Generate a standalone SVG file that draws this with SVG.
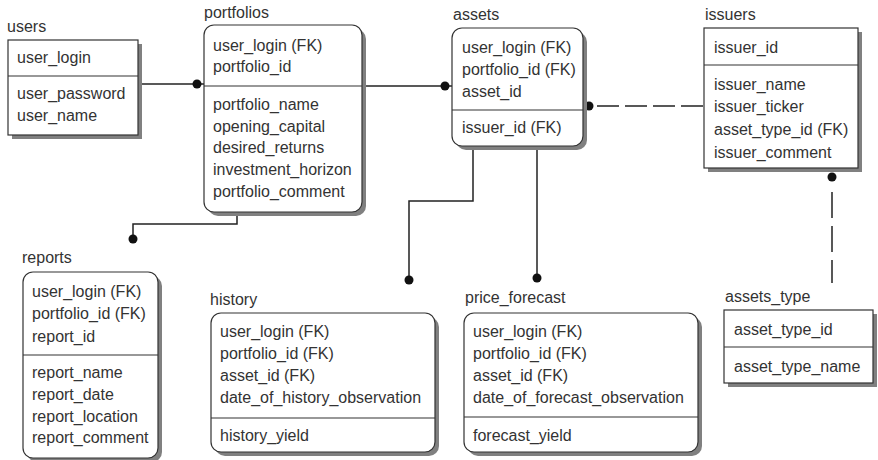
<svg xmlns="http://www.w3.org/2000/svg" width="878" height="460" viewBox="0 0 878 460">
<defs>
<style>
text{font-family:"Liberation Sans",Arial,sans-serif;font-size:16px;fill:#333;}
.box{fill:#fff;stroke:#333;stroke-width:1.2;}
.sh{fill:#808080;}
.div{stroke:#333;stroke-width:1.2;}
.conn{fill:none;stroke:#222;stroke-width:1.5;}
.dash{fill:none;stroke:#222;stroke-width:1.5;}
.dot{fill:#111;}
</style>
</defs>
<rect width="878" height="460" fill="#fff"/>

<g id="connectors">
<line class="conn" x1="138" y1="84" x2="204" y2="84"/>
<circle class="dot" cx="197" cy="84" r="4.5"/>
<line class="conn" x1="362" y1="86" x2="452" y2="86"/>
<circle class="dot" cx="445" cy="86" r="4.5"/>
<line class="conn" x1="583" y1="106" x2="590" y2="106"/>
<circle class="dot" cx="589" cy="106" r="4.5"/>
<line class="dash" x1="597" y1="106" x2="704" y2="106" stroke-dasharray="22 6"/>
<circle class="dot" cx="832" cy="177" r="4.5"/>
<line class="dash" x1="832" y1="192" x2="832" y2="283" stroke-dasharray="26 8"/>
<polyline class="conn" points="237,212 237,224 133,224 133,239"/>
<circle class="dot" cx="133" cy="239" r="4.5"/>
<polyline class="conn" points="473,146 473,201 409,201 409,280"/>
<circle class="dot" cx="409" cy="280" r="4.5"/>
<line class="conn" x1="537" y1="146" x2="537" y2="278"/>
<circle class="dot" cx="537" cy="278" r="4.5"/>
</g>

<g id="users">
<text x="7" y="32">users</text>
<rect class="sh" x="12" y="44" width="130" height="95"/>
<rect class="box" x="8" y="40" width="130" height="95"/>
<line class="div" x1="8" y1="76" x2="138" y2="76"/>
<text x="17" y="63">user_login</text>
<text x="17" y="99">user_password</text>
<text x="17" y="121">user_name</text>
</g>

<g id="portfolios">
<text x="204" y="18">portfolios</text>
<rect class="sh" x="208" y="29" width="158" height="187" rx="10"/>
<rect class="box" x="204" y="25" width="158" height="187" rx="10"/>
<line class="div" x1="204" y1="86" x2="362" y2="86"/>
<text x="213" y="51">user_login (FK)</text>
<text x="213" y="72">portfolio_id</text>
<text x="213" y="110">portfolio_name</text>
<text x="213" y="132">opening_capital</text>
<text x="213" y="153">desired_returns</text>
<text x="213" y="175">investment_horizon</text>
<text x="213" y="197">portfolio_comment</text>
</g>

<g id="assets">
<text x="453" y="20">assets</text>
<rect class="sh" x="456" y="32" width="131" height="118" rx="10"/>
<rect class="box" x="452" y="28" width="131" height="118" rx="10"/>
<line class="div" x1="452" y1="110" x2="583" y2="110"/>
<text x="462" y="53">user_login (FK)</text>
<text x="462" y="75">portfolio_id (FK)</text>
<text x="462" y="97">asset_id</text>
<text x="462" y="133">issuer_id (FK)</text>
</g>

<g id="issuers">
<text x="705" y="20">issuers</text>
<rect class="sh" x="708" y="32" width="154" height="140"/>
<rect class="box" x="704" y="28" width="154" height="140"/>
<line class="div" x1="704" y1="65" x2="858" y2="65"/>
<text x="714" y="53">issuer_id</text>
<text x="714" y="90">issuer_name</text>
<text x="714" y="112">issuer_ticker</text>
<text x="714" y="135">asset_type_id (FK)</text>
<text x="714" y="158">issuer_comment</text>
</g>

<g id="reports">
<text x="22" y="263">reports</text>
<rect class="sh" x="27" y="276" width="135" height="186" rx="10"/>
<rect class="box" x="23" y="272" width="135" height="186" rx="10"/>
<line class="div" x1="23" y1="355" x2="158" y2="355"/>
<text x="32" y="297">user_login (FK)</text>
<text x="32" y="319">portfolio_id (FK)</text>
<text x="32" y="342">report_id</text>
<text x="32" y="378">report_name</text>
<text x="32" y="400">report_date</text>
<text x="32" y="422">report_location</text>
<text x="32" y="443">report_comment</text>
</g>

<g id="history">
<text x="210" y="305">history</text>
<rect class="sh" x="215" y="317" width="224" height="139" rx="10"/>
<rect class="box" x="211" y="313" width="224" height="139" rx="10"/>
<line class="div" x1="211" y1="418" x2="435" y2="418"/>
<text x="220" y="337">user_login (FK)</text>
<text x="220" y="359">portfolio_id (FK)</text>
<text x="220" y="381">asset_id (FK)</text>
<text x="220" y="403">date_of_history_observation</text>
<text x="220" y="441">history_yield</text>
</g>

<g id="price_forecast">
<text x="465" y="303">price_forecast</text>
<rect class="sh" x="468" y="317" width="234" height="139" rx="10"/>
<rect class="box" x="464" y="313" width="234" height="139" rx="10"/>
<line class="div" x1="464" y1="417" x2="698" y2="417"/>
<text x="473" y="337">user_login (FK)</text>
<text x="473" y="359">portfolio_id (FK)</text>
<text x="473" y="381">asset_id (FK)</text>
<text x="473" y="403">date_of_forecast_observation</text>
<text x="473" y="441">forecast_yield</text>
</g>

<g id="assets_type">
<text x="725" y="302">assets_type</text>
<rect class="sh" x="728" y="314" width="149" height="73"/>
<rect class="box" x="724" y="310" width="149" height="73"/>
<line class="div" x1="724" y1="347" x2="873" y2="347"/>
<text x="734" y="335">asset_type_id</text>
<text x="734" y="372">asset_type_name</text>
</g>
</svg>
